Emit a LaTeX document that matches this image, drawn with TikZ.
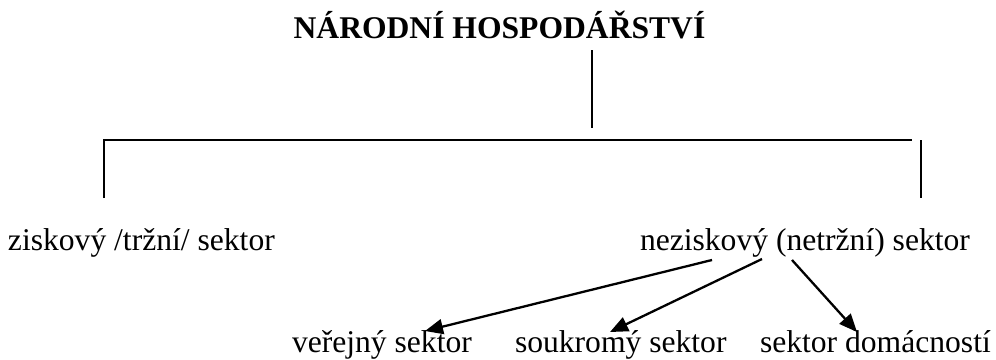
\documentclass[tikz,border=0pt]{standalone}
\usepackage{fontspec}
\setmainfont{Liberation Serif}
\usetikzlibrary{arrows.meta}
\begin{document}
\begin{tikzpicture}[x=1pt,y=-1pt,
  txt/.style={inner sep=0pt,outer sep=0pt,anchor=base west,font=\fontsize{31.6}{38}\selectfont},
  ttl/.style={inner sep=0pt,outer sep=0pt,anchor=base,font=\fontsize{31.6}{38}\selectfont\bfseries},
  ln/.style={line width=2.3pt},
  arr/.style={line width=2.3pt,-{Triangle[length=18pt,width=15pt]}}]
\useasboundingbox (0,0) rectangle (996,359);
\node[ttl] (title) at (499.5,38) {NÁRODNÍ HOSPODÁŘSTVÍ};
\node[txt] (zisk) at (8,250) {ziskový /tržní/ sektor};
\node[txt] (nezisk) at (640,250) {neziskový (netržní) sektor};
\node[txt] (verej) at (292,352) {veřejný sektor};
\node[txt] (soukr) at (515,352) {soukromý sektor};
\node[txt] (domac) at (760,352) {sektor domácností};
% tree lines
\coordinate (t1) at (592,50);
\coordinate (t2) at (592,128);
\coordinate (hl) at (104,140);
\coordinate (hr) at (912,140);
\coordinate (lb) at (104,198);
\coordinate (rt) at (921,140);
\coordinate (rb) at (921,198);
\draw[ln] (t1) -- (t2);
\draw[ln] (lb) -- (hl) -- (hr);
\draw[ln] (rt) -- (rb);
% arrows
\coordinate (a1s) at (712,260);
\coordinate (a1e) at (425,331);
\coordinate (a2s) at (762,259);
\coordinate (a2e) at (610,332);
\coordinate (a3s) at (792,260);
\coordinate (a3e) at (857,332);
\draw[arr] (a1s) -- (a1e);
\draw[arr] (a2s) -- (a2e);
\draw[arr] (a3s) -- (a3e);
\end{tikzpicture}
\end{document}
